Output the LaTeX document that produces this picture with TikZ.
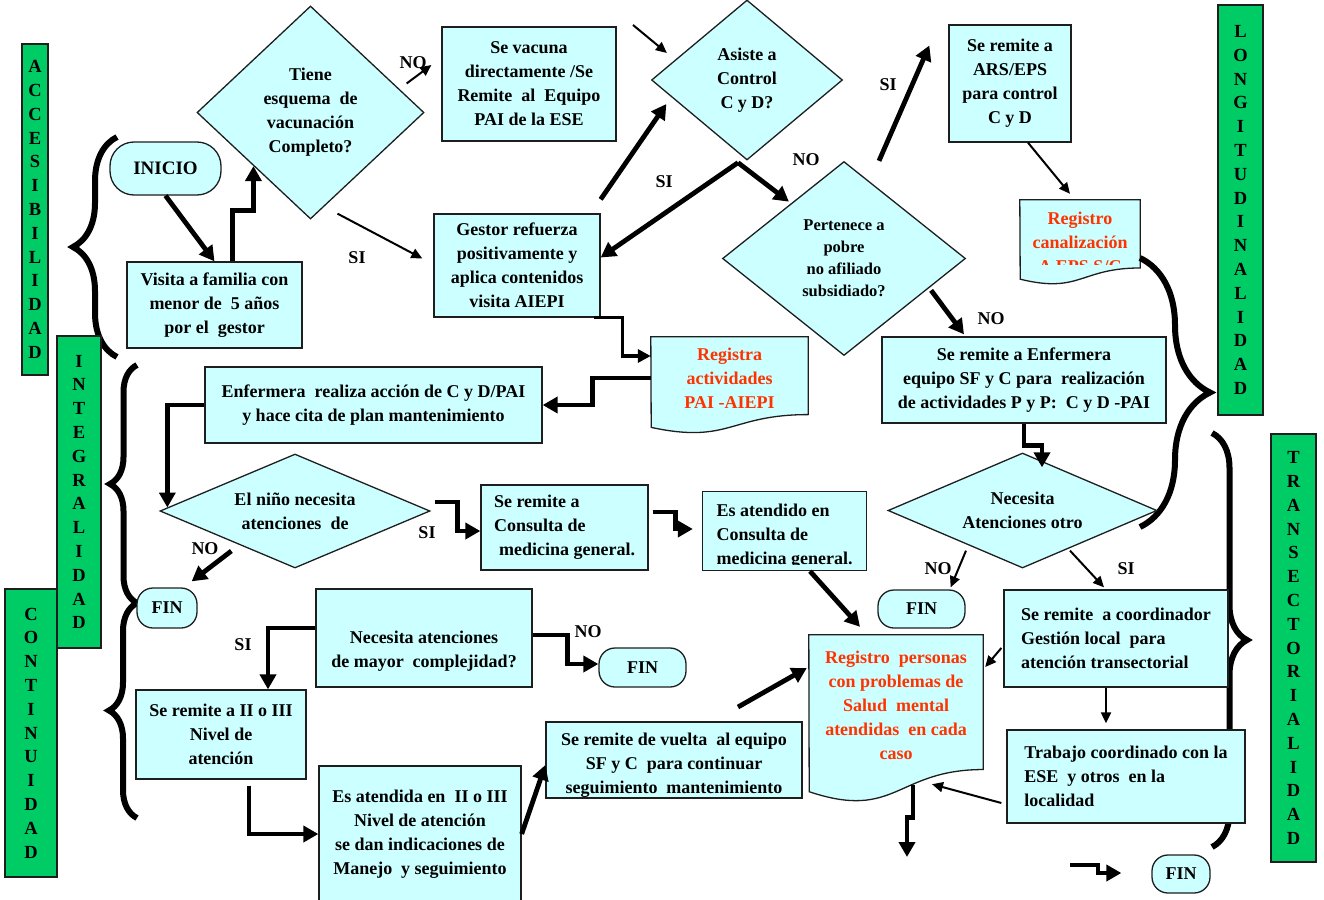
\documentclass[tikz,border=0pt]{standalone}
\usepackage{fontspec}
\setmainfont{Liberation Serif}
\usetikzlibrary{shapes.geometric,arrows.meta,decorations.pathreplacing,backgrounds}
\definecolor{celeste}{RGB}{204,255,255}
\definecolor{verde}{RGB}{0,204,102}
\definecolor{rojo}{RGB}{255,51,0}
\definecolor{borde}{RGB}{30,30,30}
\newcommand\hojadoc[3]{%
  \draw[caja] (#1.north west) -- (#1.north east) -- ++(0,0.802*#3)
    .. controls +(-0.5*#2,0) and +(0.5*#2,0.1735*#3) .. ++(-#2,0.132*#3) -- cycle;}

\begin{document}
\begin{tikzpicture}[x=1pt,y=-1pt,
  every node/.style={font=\bfseries\fontsize{18}{24}\selectfont,align=center,inner sep=0pt},
  caja/.style={draw=borde,fill=celeste,line width=1.3pt},
  rombo/.style={caja,diamond},
  fin/.style={caja,rounded corners=16pt},
  barra/.style={draw=borde,fill=verde,line width=1.3pt,font=\bfseries\fontsize{18.5}{23.8}\selectfont},
  registro/.style={text=rojo},
  flecha/.style={-{Triangle[length=11pt,width=10pt]},line width=2pt},
  media/.style={-{Triangle[length=13pt,width=13pt]},line width=3.2pt},
  gruesa/.style={-{Triangle[length=15pt,width=16pt]},line width=4.8pt},
  llave/.style={decorate,decoration={brace,amplitude=#1},line width=6pt}]
  \useasboundingbox (0,0) rectangle (1324,899);

  \foreach \a/\b/\c in {{(117,357)}/{(117,137)}/44,{(137,603)}/{(137,365)}/27,
      {(137,818)}/{(137,603)}/28,{(1140,258)}/{(1140,527)}/70,{(1212,433)}/{(1212,847)}/35}
    \draw[llave=\c] \a -- \b;

  \node[barra,minimum width=26,minimum height=331] (bacc) at (35,209.5) {A\\C\\C\\E\\S\\I\\B\\I\\L\\I\\D\\A\\D};
  \node[barra,minimum width=52,minimum height=288] (bcon) at (31,733) {C\\O\\N\\T\\I\\N\\U\\I\\D\\A\\D};
  \node[barra,minimum width=44,minimum height=312] (bint) at (79,492) {I\\N\\T\\E\\G\\R\\A\\L\\I\\D\\A\\D};
  \node[barra,minimum width=45,minimum height=410] (blon) at (1240.5,210) {L\\O\\N\\G\\I\\T\\U\\D\\I\\N\\A\\L\\I\\D\\A\\D};
  \node[barra,minimum width=45,minimum height=428] (btra) at (1293.5,648) {T\\R\\A\\N\\S\\E\\C\\T\\O\\R\\I\\A\\L\\I\\D\\A\\D};

  \node[fin,minimum width=111,minimum height=53,rounded corners=24pt,font=\bfseries\fontsize{19}{24}\selectfont] (inicio) at (165.5,168.5) {INICIO};
  \node[caja,minimum width=175,minimum height=86] (visita) at (214.5,305) {Visita a familia con\\menor de~~5 años\\por el~~gestor};
  \node[rombo,minimum width=227,minimum height=213,aspect=1.07] (tiene) at (310.5,112.5) {Tiene\\esquema~~de\\vacunación\\Completo?};
  \node[caja,minimum width=174,minimum height=114] (vacuna) at (529,84) {Se vacuna\\directamente /Se\\Remite~~al~~Equipo\\PAI de la ESE};
  \node[rombo,minimum width=191,minimum height=160,aspect=1.2] (asiste) at (747,80) {Asiste a\\Control\\C y D?};
  \node[caja,minimum width=166,minimum height=103] (gestor) at (517,265.5) {Gestor refuerza\\positivamente y\\aplica contenidos\\visita AIEPI};
  \node[rombo,minimum width=243,minimum height=194,aspect=1.25,font=\bfseries\fontsize{16.5}{22}\selectfont] (pertenece) at (844,258.5) {Pertenece a\\pobre\\no afiliado\\subsidiado?};
  \node[caja,minimum width=122,minimum height=117] (ars) at (1010,83.5) {Se remite a\\ARS/EPS\\para control\\C y D};
  \begin{scope}
    \clip (1020,200) rectangle (1140,264);
    \node[registro,minimum width=120,minimum height=85] (regeps) at (1080,242.5) {Registro\\canalización\\A EPS S/C};
  \end{scope}
  \node[registro,minimum width=157,minimum height=97,text depth=15pt] (regpai) at (729.5,385.5) {Registra\\actividades\\PAI -AIEPI};
  \node[caja,minimum width=284,minimum height=86] (enfpp) at (1024,380) {Se remite a Enfermera\\equipo SF y C para~~realización\\de actividades P y P:~~C y D -PAI};
  \node[caja,minimum width=337,minimum height=76] (enfcita) at (373.5,405) {Enfermera~~realiza acción de C y D/PAI\\y hace cita de plan mantenimiento};
  \node[rombo,minimum width=270,minimum height=114,aspect=2.37] (nino) at (295,511) {El niño necesita\\atenciones~~de};
  \node[caja,align=left,minimum width=167,minimum height=85] (consulta) at (564.5,527.5) {Se remite a\\Consulta de\\\hspace*{5pt}medicina general.};
  \begin{scope}
    \clip (703,492) rectangle (866,564);
    \node[align=left,minimum width=163,minimum height=78,text height=70pt] (atendido) at (784.5,531) {Es atendido en\\Consulta de\\medicina general.};
  \end{scope}
  \node[rombo,minimum width=269,minimum height=115,aspect=2.34] (otro) at (1022.5,510.5) {Necesita\\Atenciones otro};
  \node[fin,minimum width=60,minimum height=40] (fin1) at (167,608) {FIN};
  \node[fin,minimum width=87,minimum height=38] (fin2) at (921.5,609) {FIN};
  \node[caja,minimum width=216,minimum height=98,text height=63pt] (mayor) at (424,638) {Necesita atenciones\\de mayor~~complejidad?};
  \node[fin,minimum width=87,minimum height=39] (fin3) at (642.5,667.5) {FIN};
  \node[caja,minimum width=170,minimum height=89] (nivel) at (221,734.5) {Se remite a II o III\\Nivel de\\atención};
  \node[caja,minimum width=202,minimum height=136] (atendida) at (420,834) {Es atendida en~~II o III\\Nivel de atención\\se dan indicaciones de\\Manejo~~y seguimiento};
  \node[caja,minimum width=256,minimum height=76,text height=70pt] (vuelta) at (674,760) {Se remite de vuelta~~al equipo\\SF y C~~para continuar\\seguimiento~~mantenimiento};
  \node[registro,minimum width=174,minimum height=168,text depth=27pt] (regsm) at (896,719) {Registro~~personas\\con problemas de\\Salud~~mental\\atendidas~~en cada\\caso};
  \node[caja,align=left,minimum width=224,minimum height=97] (coord) at (1116,638.5) {Se remite~~a coordinador\\Gestión local~~para\\atención transectorial};
  \node[caja,align=left,minimum width=238,minimum height=93] (trabajo) at (1126,776.5) {Trabajo coordinado con la\\ESE~~y otros~~en la\\localidad};
  \node[fin,minimum width=58,minimum height=38] (fin4) at (1181,874) {FIN};

  \begin{scope}[on background layer]
    \hojadoc{regeps}{120}{85}
    \hojadoc{regpai}{157}{97}
    \hojadoc{regsm}{174}{168}
    \draw[caja] (atendido.north west) rectangle (atendido.south east);
  \end{scope}

  \node (no1) at (413,63) {NO};
  \node (si1) at (357,258) {SI};
  \node (si2) at (664,182) {SI};
  \node (no2) at (806,160) {NO};
  \node (si3) at (888,85) {SI};
  \node (no3) at (991,319) {NO};
  \node (no4) at (205,549) {NO};
  \node (si4) at (427,533) {SI};
  \node (no5) at (938,569) {NO};
  \node (si5) at (1126,569) {SI};
  \node (si6) at (243,645) {SI};
  \node (no6) at (588,632) {NO};

  \coordinate (libre1) at (633,25);
  \coordinate (libre2) at (738,707);
  \coordinate (libre3) at (1070,865);
  \coordinate (salida) at (907,857);

  \draw[gruesa] (inicio.south) -- (visita.north);
  \draw[gruesa] ([shift={(18,0)}]visita.north) -- ++(0,-51) -| (tiene.south west);
  \draw[flecha] ([shift={(-18,-29)}]tiene.east) -- ([shift={(-10,-19)}]vacuna.west);
  \draw[flecha] ([shift={(27,-6)}]tiene.south) -- ([shift={(-11,-7)}]gestor.west);
  \draw[flecha] (libre1) -- ([shift={(16,-27)}]asiste.west);
  \draw[gruesa] ([shift={(0,-14)}]gestor.north east) -- ([shift={(15.5,24)}]asiste.west);
  \draw[gruesa] ([shift={(-9,2)}]asiste.south) -- ([shift={(0,-8)}]gestor.east);
  \draw[gruesa] ([shift={(-9,2)}]asiste.south) -- ([shift={(6,-8)}]pertenece.north west);
  \draw[gruesa] ([shift={(35,0)}]pertenece.north) -- ([shift={(-19,-38)}]ars.west);
  \draw[flecha] ([shift={(18,0)}]ars.south) -- ([shift={(-10,-6)}]regeps.north);
  \draw[gruesa] ([shift={(26,-17)}]pertenece.south east) -- ([shift={(-60,-2)}]enfpp.north);
  \draw[media] ([shift={(-7,0)}]gestor.south east) -- ++(29,0) |- ([shift={(0,-29.5)}]regpai.west);
  \draw[gruesa] ([shift={(0,-7.5)}]regpai.west) -- ++(-58,0) |- (enfcita.east);
  \draw[gruesa] (enfcita.west) -| ([shift={(8,-3.5)}]nino.west);
  \draw[gruesa] ([shift={(72,40)}]nino.west) -- ([shift={(-6,-6)}]fin1.north east);
  \draw[gruesa] ([shift={(4,-9)}]nino.east) -- ++(23,0) |- ([shift={(0,3.5)}]consulta.west);
  \draw[gruesa] ([shift={(4,-15.5)}]consulta.east) -- ++(23,0) |- ([shift={(-10,-2)}]atendido.west);
  \draw[gruesa] ([shift={(25.5,1)}]atendido.south) -- ([shift={(-36,-8)}]regsm.north);
  \draw[flecha] ([shift={(-56.5,-18)}]otro.south) -- ([shift={(-15,-2)}]fin2.north east);
  \draw[flecha] ([shift={(47.5,-18)}]otro.south) -- ([shift={(-12,-2)}]coord.north);
  \draw[gruesa] (enfpp.south) -- ++(0,22) -| ([shift={(19.5,15)}]otro.north);
  \draw[flecha] ([shift={(-2,9.5)}]coord.west) -- ([shift={(2,-52)}]regsm.east);
  \draw[flecha] ([shift={(-10,0)}]coord.south) -- ([shift={(-20,-6)}]trabajo.north);
  \draw[flecha] ([shift={(-5,26.5)}]trabajo.west) -- ([shift={(36,-19)}]regsm.south);
  \draw[gruesa] (libre3) -- ++(28,0) |- ([shift={(-30,-1)}]fin4.west);
  \draw[gruesa] ([shift={(0,-10)}]mayor.west) -| ([shift={(47,0)}]nivel.north);
  \draw[gruesa] ([shift={(0,-3)}]mayor.east) -- ++(35,0) |- ([shift={(0,-3.5)}]fin3.west);
  \draw[gruesa] ([shift={(28,6)}]nivel.south) |- (atendida.west);
  \draw[gruesa] (atendida.east) -- ([shift={(0,5)}]vuelta.west);
  \draw[gruesa] (libre2) -- ([shift={(-2,-51)}]regsm.west);
  \draw[gruesa] ([shift={(17,-18)}]regsm.south) -- ++(0,32) -| (salida);
\end{tikzpicture}
\end{document}
